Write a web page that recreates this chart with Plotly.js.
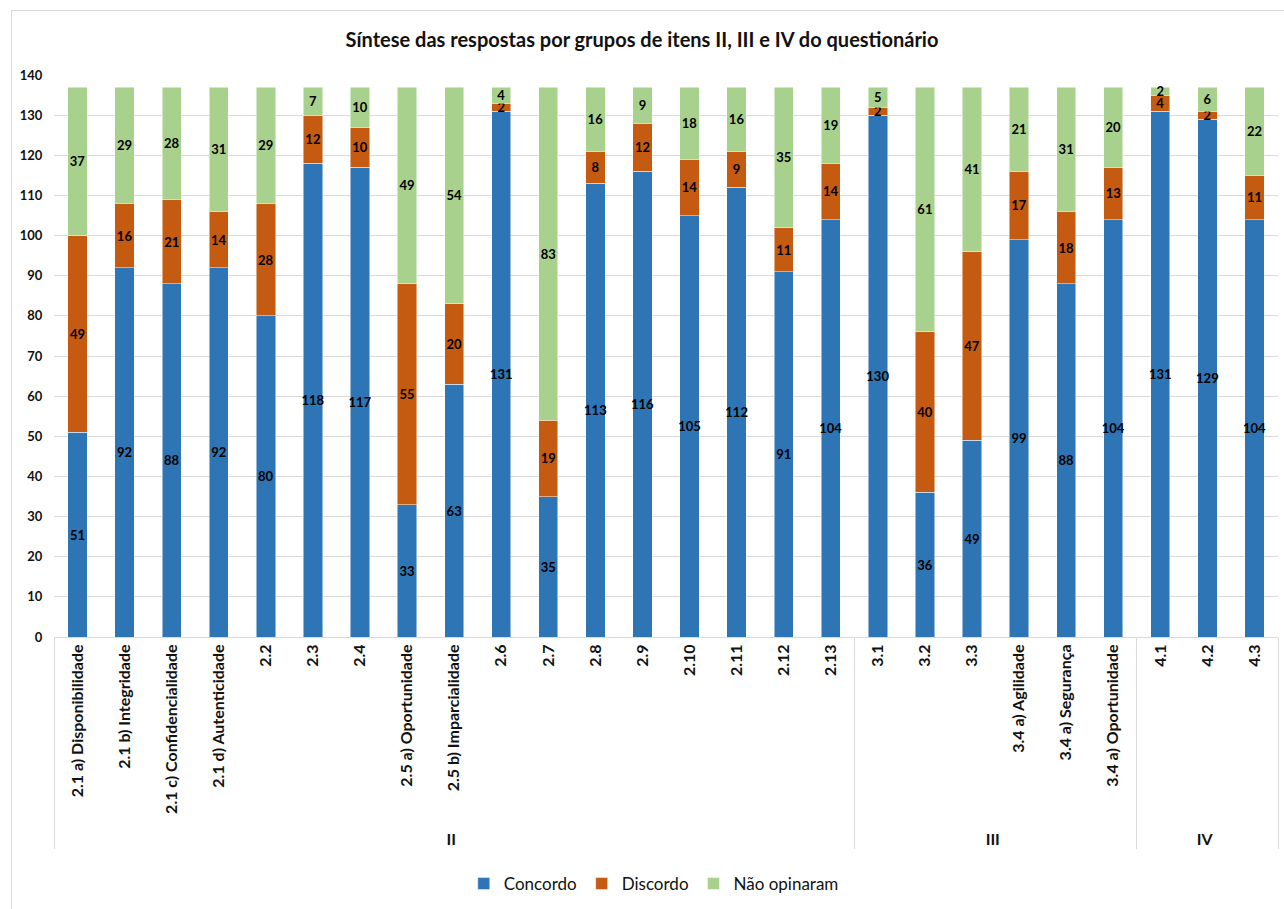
<!DOCTYPE html>
<html>
<head>
<meta charset="utf-8">
<script src="https://cdn.plot.ly/plotly-3.0.1.min.js"></script>
<style>
  html, body { margin: 0; padding: 0; background: #ffffff; }
  #wrap { position: relative; width: 1284px; height: 909px; overflow: hidden; }
  #chart { width: 1284px; height: 909px; }
  #frame { position: absolute; left: 11px; top: 10px; width: 1300px; height: 920px;
           border-left: 1px solid #d9d9d9; border-top: 1px solid #d9d9d9; pointer-events: none; }
</style>
</head>
<body>
<div id="wrap">
  <div id="chart"></div>
  <div id="frame"></div>
</div>
<script>
// Question groups and items
const groups = [
  "II","II","II","II","II","II","II","II","II","II","II","II","II","II","II","II","II",
  "III","III","III","III","III","III",
  "IV","IV","IV"
];
const items = [
  "2.1 a) Disponibilidade","2.1 b) Integridade","2.1 c) Confidencialidade","2.1 d) Autenticidade",
  "2.2","2.3","2.4","2.5 a) Oportunidade","2.5 b) Imparcialidade","2.6","2.7","2.8","2.9",
  "2.10","2.11","2.12","2.13",
  "3.1","3.2","3.3","3.4 a) Agilidade","3.4 a) Segurança","3.4 a) Oportunidade",
  "4.1","4.2","4.3"
];

// Answer counts per item
const concordo    = [51, 92, 88, 92, 80, 118, 117, 33, 63, 131, 35, 113, 116, 105, 112, 91, 104, 130, 36, 49, 99, 88, 104, 131, 129, 104];
const discordo    = [49, 16, 21, 14, 28, 12, 10, 55, 20, 2, 19, 8, 12, 14, 9, 11, 14, 2, 40, 47, 17, 18, 13, 4, 2, 11];
const naoOpinaram = [37, 29, 28, 31, 29, 7, 10, 49, 54, 4, 83, 16, 9, 18, 16, 35, 19, 5, 61, 41, 21, 31, 20, 2, 6, 22];

const seriesNames = ["Concordo", "Discordo", "Não opinaram"];
const seriesColors = ["#2E75B6", "#C55A11", "#A9D18E"];
const seriesValues = [concordo, discordo, naoOpinaram];

const FONT = "Lato, 'Open Sans', sans-serif";

const traces = seriesValues.map((vals, i) => ({
  type: "bar",
  name: seriesNames[i],
  x: [groups, items],
  y: vals,
  marker: { color: seriesColors[i], line: { color: "rgba(255,255,255,0.6)", width: 0.8 } },
  texttemplate: "%{y}",
  textposition: "inside",
  insidetextanchor: "middle",
  textangle: 0,
  textfont: { family: FONT, size: 13, color: "#000000", weight: 700 },
  hoverinfo: "x+y+name"
}));

const layout = {
  width: 1284,
  height: 909,
  barmode: "stack",
  bargap: 0.59,
  paper_bgcolor: "#ffffff",
  plot_bgcolor: "#ffffff",
  margin: { l: 54, r: 6, t: 75, b: 272 },
  title: {
    text: "Síntese das respostas por grupos de itens II, III e IV do questionário",
    font: { family: FONT, size: 20, color: "#111111", weight: 700 },
    x: 0.5, xanchor: "center",
    y: 1 - 40 / 909, yanchor: "middle"
  },
  font: { family: FONT, color: "#111111" },
  uniformtext: { mode: "show", minsize: 13 },
  xaxis: {
    type: "multicategory",
    tickangle: -90,
    tickfont: { family: FONT, size: 16, color: "#111111", weight: 700 },
    showline: true,
    linecolor: "#d9d9d9",
    linewidth: 1,
    showdividers: true,
    dividercolor: "#d9d9d9",
    dividerwidth: 1,
    ticks: "",
    showgrid: false
  },
  yaxis: {
    range: [0, 140],
    dtick: 10,
    tickfont: { family: FONT, size: 13, color: "#111111", weight: 700 },
    showgrid: true,
    gridcolor: "#d9d9d9",
    gridwidth: 1,
    zeroline: false,
    showline: false,
    ticks: "outside",
    ticklen: 8,
    tickcolor: "rgba(0,0,0,0)"
  },
  legend: {
    orientation: "h",
    x: 0.49, xanchor: "center",
    y: (637 - 884) / 562, yanchor: "middle",
    font: { family: FONT, size: 17, color: "#111111" },
    traceorder: "normal",
    itemwidth: 30
  },
  showlegend: true
};

Plotly.newPlot("chart", traces, layout, { displayModeBar: false, staticPlot: true });
</script>
</body>
</html>
